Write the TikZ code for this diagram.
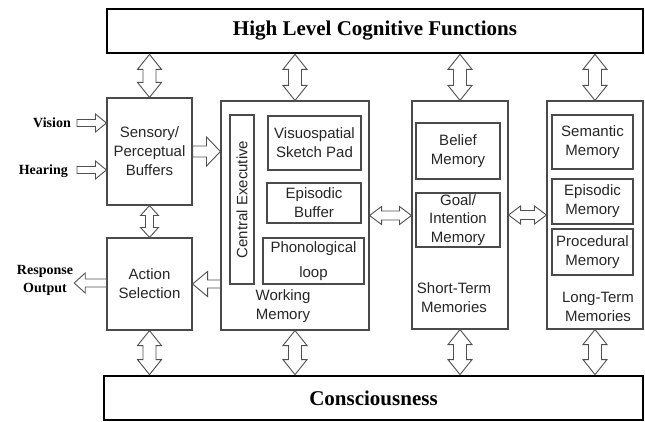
\documentclass[tikz,border=0pt]{standalone}
\usepackage{fontspec}
\setmainfont{Liberation Serif}
\setsansfont{Liberation Sans}
\usetikzlibrary{calc}
\definecolor{boxgray}{HTML}{4A4A4A}
\definecolor{argray}{HTML}{505050}
\definecolor{txtgray}{HTML}{262626}
\tikzset{
  arhw/.store in=\arhw, arsw/.store in=\arsw, arhl/.store in=\arhl,
  arhw=9pt, arsw=4.5pt, arhl=11pt,
  blockarrow/.style={draw=argray, fill=white, line width=0.9pt, line join=miter},
  vdbl/.style={blockarrow, arhw=12pt, arsw=6.5pt, arhl=15pt,
    to path={let \p1=(\tikztostart), \p2=(\tikztotarget),
      \p3=($(\p1)!\arhl!(\p2)$), \p4=($(\p2)!\arhl!(\p1)$) in
      (\p1) -- (\x1+\arhw,\y3) -- (\x1+\arsw,\y3) -- (\x1+\arsw,\y4) -- (\x1+\arhw,\y4)
      -- (\p2) -- (\x1-\arhw,\y4) -- (\x1-\arsw,\y4) -- (\x1-\arsw,\y3) -- (\x1-\arhw,\y3) -- cycle}},
  hdbl/.style={blockarrow, arhw=9pt, arsw=4.5pt, arhl=12pt,
    to path={let \p1=(\tikztostart), \p2=(\tikztotarget),
      \p3=($(\p1)!\arhl!(\p2)$), \p4=($(\p2)!\arhl!(\p1)$) in
      (\p1) -- (\x3,\y1+\arhw) -- (\x3,\y1+\arsw) -- (\x4,\y1+\arsw) -- (\x4,\y1+\arhw)
      -- (\p2) -- (\x4,\y1-\arhw) -- (\x4,\y1-\arsw) -- (\x3,\y1-\arsw) -- (\x3,\y1-\arhw) -- cycle}},
  hsgl/.style={blockarrow,
    to path={let \p1=(\tikztostart), \p2=(\tikztotarget),
      \p3=($(\p2)!\arhl!(\p1)$) in
      (\x1,\y1+\arsw) -- (\x3,\y1+\arsw) -- (\x3,\y1+\arhw) -- (\p2)
      -- (\x3,\y1-\arhw) -- (\x3,\y1-\arsw) -- (\x1,\y1-\arsw) -- cycle}},
  bigbox/.style={draw=black, line width=2.8pt, inner sep=0pt,
    font=\bfseries\fontsize{21}{25}\selectfont},
  box/.style={draw=boxgray, line width=1.1pt, inner sep=0pt, text=txtgray,
    align=center, font=\sffamily\fontsize{15}{19}\selectfont},
  sftext/.style={text=txtgray, align=center, inner sep=0pt,
    font=\sffamily\fontsize{15}{19}\selectfont},
  lab/.style={inner sep=1pt, align=center, text=black,
    font=\bfseries\fontsize{14}{18}\selectfont}
}
\begin{document}
\begin{tikzpicture}[x=1pt, y=-1pt]
\useasboundingbox (0,0) rectangle (645,422);
% big boxes
\node[bigbox, minimum width=536pt, minimum height=44pt] (hl) at (375,31) {High Level Cognitive Functions};
\node[bigbox, minimum width=539pt, minimum height=44pt] (cons) at (373.5,398) {Consciousness};
% left column
\node[box, minimum width=85pt, minimum height=107pt] (sb) at (149.5,151.5) {Sensory/\\Perceptual\\Buffers};
\node[box, minimum width=85pt, minimum height=92pt] (as) at (149.5,284) {Action\\Selection};
% working memory
\node[box, minimum width=148pt, minimum height=229pt] (wm) at (295,215.5) {};
\node[box, minimum width=24pt, minimum height=169pt] (ce) at (242,199.5) {};
\node[sftext, rotate=90] (cet) at (ce.center) {Central Executive};
\node[box, minimum width=93pt, minimum height=54pt] (vs) at (314.5,143) {Visuospatial\\Sketch Pad};
\node[box, minimum width=94pt, minimum height=40pt] (eb) at (314,203) {Episodic\\Buffer};
\node[box, minimum width=101pt, minimum height=46pt, font=\sffamily\fontsize{15}{25}\selectfont] (ph) at (313.5,261) {Phonological\\loop};
\node[sftext] (wmt) at (283,306) {Working\\Memory};
% short-term memories
\node[box, minimum width=96pt, minimum height=228pt] (stm) at (460,215) {};
\node[box, minimum width=84pt, minimum height=56pt] (bel) at (458,151) {Belief\\Memory};
\node[box, minimum width=84pt, minimum height=54pt, font=\sffamily\fontsize{15}{18.5}\selectfont] (goal) at (458,220) {Goal/\\Intention\\Memory};
\node[sftext] (stmt) at (454,297.5) {Short-Term\\Memories};
% long-term memories
\node[box, minimum width=96pt, minimum height=228pt] (ltm) at (595,215) {};
\node[box, minimum width=81pt, minimum height=54pt] (sem) at (592.5,142) {Semantic\\Memory};
\node[box, minimum width=81pt, minimum height=45pt] (epi) at (592.5,201.5) {Episodic\\Memory};
\node[box, minimum width=81pt, minimum height=46pt] (proc) at (592.5,252) {Procedural\\Memory};
\node[sftext] (ltmt) at (598,306.5) {Long-Term\\Memories};
% external labels
\node[lab, anchor=east, text height=10pt, text depth=0pt] (vis) at (72,123) {Vision};
\node[lab, anchor=east, text height=10pt, text depth=0pt] (hear) at (69,170) {Hearing};
\node[lab] (resp) at (45,280) {Response\\Output};
% arrows: high level <-> boxes
\draw[vdbl] (sb.north |- hl.south) to (sb.north);
\draw[vdbl] (wm.north |- hl.south) to (wm.north);
\draw[vdbl] (stm.north |- hl.south) to (stm.north);
\draw[vdbl] (ltm.north |- hl.south) to (ltm.north);
% boxes <-> consciousness
\draw[vdbl] (as.south) to (as.south |- cons.north);
\draw[vdbl] (wm.south) to (wm.south |- cons.north);
\draw[vdbl] (stm.south) to (stm.south |- cons.north);
\draw[vdbl] (ltm.south) to (ltm.south |- cons.north);
% sensory <-> action
\draw[vdbl, arhw=9pt, arsw=4pt, arhl=10pt] (sb.south) to (as.north);
% inputs
\draw[hsgl, arhw=9pt, arsw=3.5pt, arhl=11pt] ([xshift=5pt]vis.east) to (sb.west |- vis.east);
\draw[hsgl, arhw=9pt, arsw=3.5pt, arhl=11pt] ([xshift=8pt]hear.east) to (sb.west |- hear.east);
% sensory -> working memory
\draw[hsgl, arhw=14.5pt, arsw=5.5pt, arhl=14pt] (sb.east) to (sb.east -| wm.west);
% working memory -> action
\draw[hsgl, arhw=12.5pt, arsw=4pt, arhl=15pt] (as.east -| wm.west) to (as.east);
% action -> response
\draw[hsgl, arhw=10pt, arsw=4pt, arhl=11pt] ([yshift=1pt]as.west) to ([yshift=1pt]as.west -| resp.east);
% memories
\draw[hdbl] (wm.east) to (wm.east -| stm.west);
\draw[hdbl] (stm.east) to (stm.east -| ltm.west);
\end{tikzpicture}
\end{document}
